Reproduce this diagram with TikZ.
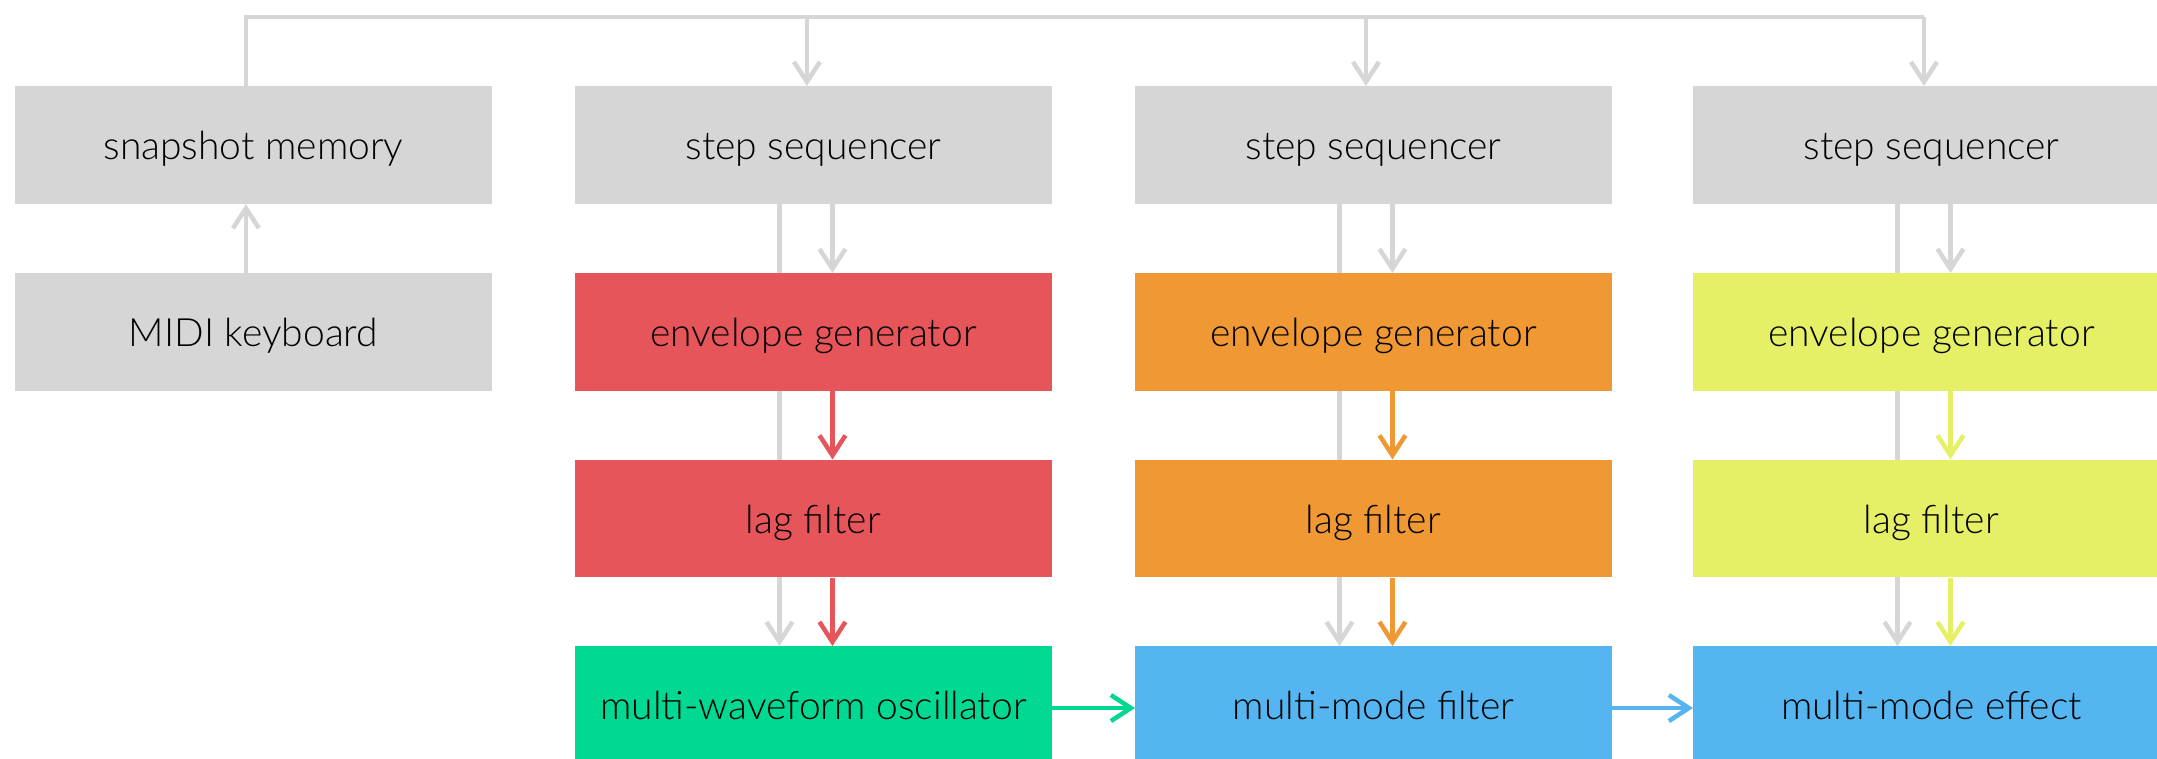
\documentclass[tikz,border=0pt]{standalone}
\usepackage{fontspec}
\setmainfont{Lato Light}
\usetikzlibrary{arrows.meta,backgrounds}
\definecolor{cgray}{HTML}{D6D6D6}
\definecolor{cred}{HTML}{E5555A}
\definecolor{corange}{HTML}{EF9834}
\definecolor{cyellow}{HTML}{E5F067}
\definecolor{cgreen}{HTML}{00D894}
\definecolor{cblue}{HTML}{55B5F0}
\begin{document}
\begin{tikzpicture}[x=1pt,y=-1pt,
  box/.style={rectangle, anchor=north west, minimum width=476.5pt, minimum height=117.7pt,
    inner sep=0pt, text=black, text height=31pt, text depth=2pt, font=\fontsize{39}{44}\selectfont},
  conn/.style={line width=4.5pt, -{Straight Barb[length=20pt,width=26pt]}},
  plain/.style={line width=4.5pt}]
\useasboundingbox (0,0) rectangle (2157,758);
% row 1
\node[box, fill=cgray] (snap) at (15,86) {snapshot memory};
\node[box, fill=cgray] (seqA) at (575,86) {step sequencer};
\node[box, fill=cgray] (seqB) at (1135,86) {step sequencer};
\node[box, fill=cgray] (seqC) at (1693,86) {step sequencer};
% row 2
\node[box, fill=cgray] (midi) at (15,273) {MIDI keyboard};
\node[box, fill=cred] (envA) at (575,273) {envelope generator};
\node[box, fill=corange] (envB) at (1135,273) {envelope generator};
\node[box, fill=cyellow] (envC) at (1693,273) {envelope generator};
% row 3
\node[box, fill=cred] (lagA) at (575,459.5) {lag filter};
\node[box, fill=corange] (lagB) at (1135,459.5) {lag filter};
\node[box, fill=cyellow] (lagC) at (1693,459.5) {lag filter};
% row 4
\node[box, fill=cgreen] (osc) at (575,646) {multi-waveform oscillator};
\node[box, fill=cblue] (mmf) at (1135,646) {multi-mode filter};
\node[box, fill=cblue] (mme) at (1693,646) {multi-mode effect};

% bus
\coordinate (bus) at (0,17);
\coordinate (snapP) at ([xshift=-7.5pt]snap.north);
\coordinate (pA) at ([xshift=-6.5pt]seqA.north);
\coordinate (pB) at ([xshift=-7.5pt]seqB.north);
\coordinate (pC) at ([xshift=-7.5pt]seqC.north);
\draw[plain, cgray] (snapP) |- (bus -| pC);
\draw[conn, cgray] (bus -| pA) -- (pA);
\draw[conn, cgray] (bus -| pB) -- (pB);
\draw[conn, cgray] (bus -| pC) -- (pC);
\draw[conn, cgray] (midi.north -| snapP) -- (snap.south -| snapP);

% columns
\foreach \s/\e/\l/\o/\c in {seqA/envA/lagA/osc/cred, seqB/envB/lagB/mmf/corange, seqC/envC/lagC/mme/cyellow}{
  \begin{scope}[on background layer]
    \draw[conn, cgray] ([xshift=-34pt]\s.south) -- ([xshift=-34pt]\o.north);
  \end{scope}
  \draw[conn, cgray] ([xshift=19pt]\s.south) -- ([xshift=19pt]\e.north);
  \draw[conn, \c] ([xshift=19pt]\e.south) -- ([xshift=19pt]\l.north);
  \draw[conn, \c] ([xshift=19pt]\l.south) -- ([xshift=19pt]\o.north);
}
\draw[conn, cgreen] ([yshift=-3pt]osc.east) -- ([yshift=-3pt]mmf.west);
\draw[conn, cblue] ([yshift=-3pt]mmf.east) -- ([yshift=-3pt]mme.west);
\end{tikzpicture}
\end{document}
